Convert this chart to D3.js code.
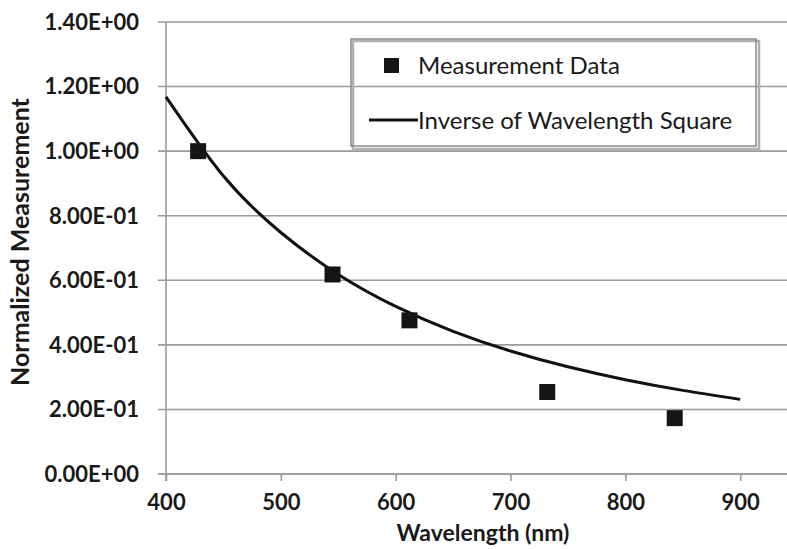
<!DOCTYPE html>
<html>
<head>
<meta charset="utf-8">
<script src="https://cdn.jsdelivr.net/npm/d3@7"></script>
<style>
  body { margin: 0; background: #fff; }
  text { font-family: Lato, "Open Sans", sans-serif; }
</style>
</head>
<body>
<script>
// measured points
var wavelengths = [428, 545, 612, 732, 843];
var measured = [1.00, 0.618, 0.476, 0.254, 0.173];

// inverse of wavelength square
var curveWavelengths = [400, 450, 500, 550, 600, 650, 700, 750, 800, 850, 900];
var curveValues = [1.168, 0.923, 0.748, 0.618, 0.519, 0.442, 0.381, 0.332, 0.292, 0.259, 0.231];

var xTicks = [400, 500, 600, 700, 800, 900];
var yTicks = [0, 0.2, 0.4, 0.6, 0.8, 1.0, 1.2, 1.4];

var width = 787, height = 549;

var svg = d3.select("body").append("svg")
  .attr("width", width)
  .attr("height", height);

// scales
var x = d3.scaleLinear().domain([400, 1000]).range([166, 855]);
var y = d3.scaleLinear().domain([0, 1.4]).range([474, 22]);

// horizontal gridlines
svg.append("g")
  .selectAll("line")
  .data(yTicks)
  .enter().append("line")
  .attr("x1", 158)
  .attr("x2", width)
  .attr("y1", function(d) { return y(d); })
  .attr("y2", function(d) { return y(d); })
  .style("stroke", "#9a9a9a")
  .style("stroke-width", 1.6);

// y axis line
svg.append("line")
  .attr("x1", 166).attr("x2", 166)
  .attr("y1", y(1.4)).attr("y2", y(0) + 7)
  .style("stroke", "#9a9a9a")
  .style("stroke-width", 1.6);

// y tick labels
svg.append("g")
  .selectAll("text")
  .data(yTicks)
  .enter().append("text")
  .attr("x", 139)
  .attr("y", function(d) { return y(d); })
  .attr("dy", "0.36em")
  .attr("text-anchor", "end")
  .style("font-size", "22px")
  .style("font-weight", "bold")
  .style("fill", "#1a1a1a")
  .text(function(d) {
    var s = d.toExponential(2).toUpperCase();
    return s.replace(/E([+-])(\d)$/, "E$10$2");
  });

// x axis
var xAxis = svg.append("g")
  .attr("transform", "translate(0," + y(0) + ")")
  .call(d3.axisBottom(x).tickValues(xTicks).tickSize(7).tickSizeOuter(0));
xAxis.select(".domain").remove();
xAxis.append("line")
  .attr("x1", 158).attr("x2", width)
  .style("stroke", "#9a9a9a")
  .style("stroke-width", 1.6);
xAxis.selectAll(".tick line").style("stroke", "#9a9a9a").style("stroke-width", 1.6);
xAxis.selectAll(".tick text")
  .attr("y", 36)
  .attr("dy", null)
  .style("font-family", "Lato, sans-serif")
  .style("font-size", "22px")
  .style("font-weight", "bold")
  .style("fill", "#1a1a1a");

// axis titles
svg.append("text")
  .attr("x", 483)
  .attr("y", 541)
  .attr("text-anchor", "middle")
  .style("font-size", "23px")
  .style("font-weight", "bold")
  .style("fill", "#1a1a1a")
  .text("Wavelength (nm)");

svg.append("text")
  .attr("transform", "translate(29,242)rotate(-90)")
  .attr("text-anchor", "middle")
  .style("font-size", "25px")
  .style("font-weight", "bold")
  .style("fill", "#1a1a1a")
  .text("Normalized Measurement");

// curve
var line = d3.line()
  .x(function(d, i) { return x(curveWavelengths[i]); })
  .y(function(d) { return y(d); })
  .curve(d3.curveNatural);

svg.append("path")
  .datum(curveValues)
  .attr("d", line)
  .style("fill", "none")
  .style("stroke", "#111")
  .style("stroke-width", 3);

// measurement squares
var sq = 16;
svg.append("g")
  .selectAll("rect")
  .data(measured)
  .enter().append("rect")
  .attr("x", function(d, i) { return x(wavelengths[i]) - sq / 2; })
  .attr("y", function(d) { return y(d) - sq / 2; })
  .attr("width", sq)
  .attr("height", sq)
  .style("fill", "#151515");

// legend
svg.append("rect")
  .attr("x", 353).attr("y", 41)
  .attr("width", 406).attr("height", 108)
  .style("fill", "none")
  .style("stroke", "#b0b0b0")
  .style("stroke-width", 2.5);
svg.append("rect")
  .attr("x", 351).attr("y", 39)
  .attr("width", 405).attr("height", 107)
  .style("fill", "none")
  .style("stroke", "#8a8a8a")
  .style("stroke-width", 1.5);

svg.append("rect")
  .attr("x", 384).attr("y", 58)
  .attr("width", 15).attr("height", 15)
  .style("fill", "#151515");
svg.append("text")
  .attr("x", 418).attr("y", 74)
  .style("font-size", "24px")
  .style("fill", "#1a1a1a")
  .text("Measurement Data");

svg.append("line")
  .attr("x1", 369).attr("x2", 418)
  .attr("y1", 120).attr("y2", 120)
  .style("stroke", "#111")
  .style("stroke-width", 3);
svg.append("text")
  .attr("x", 418).attr("y", 129)
  .style("font-size", "24px")
  .style("fill", "#1a1a1a")
  .text("Inverse of Wavelength Square");
</script>
</body>
</html>
